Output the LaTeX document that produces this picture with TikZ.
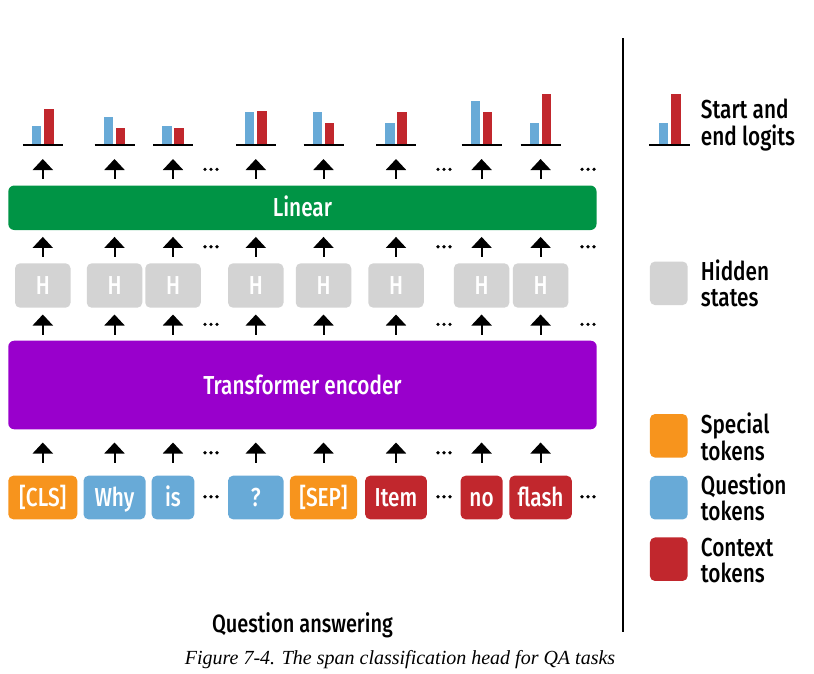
\documentclass[tikz,border=0pt]{standalone}
\usepackage{fontspec}
\setmainfont{Liberation Serif}
\setsansfont{Fira Sans Medium}[FakeStretch=0.8]
\usepackage{xcolor}
\usetikzlibrary{arrows.meta}
\definecolor{lineargreen}{HTML}{009445}
\definecolor{encpurple}{HTML}{9900CC}
\definecolor{hidgray}{HTML}{D3D3D3}
\definecolor{specorange}{HTML}{F7941D}
\definecolor{questblue}{HTML}{68AAD7}
\definecolor{ctxred}{HTML}{C1272D}
\begin{document}
\begin{tikzpicture}[x=1pt,y=-1pt,
        every node/.style={font=\sffamily\fontsize{26}{26.5}\selectfont, inner sep=0pt},
        bigbox/.style={rounded corners=6pt, text=white, text height=18pt, text depth=0pt},
        hbox/.style={fill=hidgray, rounded corners=5pt, minimum width=55.5pt, minimum height=44.4pt, text=white, text height=18pt, text depth=0pt},
        tokbox/.style={rounded corners=5pt, minimum height=43.6pt, text=white, text height=18pt, text depth=0pt},
        uparrow/.style={line width=2pt, -{Triangle[width=20pt,length=11pt]}},
        legbox/.style={rounded corners=5pt, minimum width=37.7pt, minimum height=43.5pt},
        legtext/.style={anchor=base west, align=left}]
        \useasboundingbox (0,0) rectangle (814,673);
        \node[bigbox, fill=lineargreen, minimum width=588.2pt, minimum height=44.5pt] (linear) at (302.4,207.75) {Linear};
        \node[bigbox, fill=encpurple, minimum width=588.4pt, minimum height=88.6pt] (encoder) at (302.5,385) {Transformer encoder};
        % columns: name/x/token width/colour/token/start/end
        \foreach \n/\x/\tw/\tc/\tl/\b/\r in {1/42.8/69/specorange/{[CLS]}/19/36,
                2/114.5/62/questblue/Why/28/17,
                3/173/42.6/questblue/is/19/17,
                4/255.8/55.5/questblue/?/33/34,
                5/323.5/67.3/specorange/{[SEP]}/33/22,
                6/396/61.7/ctxred/Item/22/33,
                7/481.6/42/ctxred/no/44/33,
                8/540.6/62.4/ctxred/flash/22/51}{
            \node[tokbox, fill=\tc, minimum width=\tw pt] (tok\n) at (\x,497.5) {\tl};
            \node[hbox] (hid\n) at (\x,285.5) {H};
            \coordinate (bar\n) at (\x,145);
            \fill[questblue] (\x-11,145) rectangle (\x-1.5,145-\b);
            \fill[ctxred] (\x+1.3,145) rectangle (\x+10.8,145-\r);
            \draw[line width=2pt] (\x-20,145) -- (\x+20,145);
            \draw[uparrow] ([yshift=6.5pt]hid\n.north |- linear.north) -- ([yshift=-14pt]bar\n);
            \draw[uparrow] ([yshift=6.3pt]hid\n.north) -- ([yshift=-6.7pt]hid\n.north |- linear.south);
            \draw[uparrow] ([yshift=5.7pt]hid\n.south |- encoder.north) -- ([yshift=-6.6pt]hid\n.south);
            \draw[uparrow] ([yshift=13pt]tok\n.north) -- ([yshift=-13pt]tok\n.north |- encoder.south);
        }
        % dots
        \foreach \x in {211,444,588}
            \foreach \y in {169.3,246.7,324.3,496.7}
                \foreach \dx in {-6,0,6}
                    \fill (\x+\dx,\y) circle (1.8pt);
        \foreach \x in {211,444}
            \foreach \dx in {-6,0,6}
                \fill (\x+\dx,452.7) circle (1.8pt);
        % legend
        \draw[line width=1.8pt] (623,38) -- (623,632);
        \fill[questblue] (659.3,145) rectangle (668.3,123.3);
        \fill[ctxred] (671,145) rectangle (681,94);
        \draw[line width=2pt] (649.3,145) -- (690,145);
        \node[legtext] (leglogits) at (700.7,145) {Start and\\end logits};
        \node[legbox, fill=hidgray] (leghid) at (668.8,283.3) {};
        \node[legtext] (leghidtext) at (700.7,306.7) {Hidden\\states};
        \node[legbox, fill=specorange] (legspec) at (668.8,435.8) {};
        \node[legtext] (legspectext) at (700.7,460) {Special\\tokens};
        \node[legbox, fill=questblue] (legquest) at (668.8,497.7) {};
        \node[legtext] (legquesttext) at (700.7,520.7) {Question\\tokens};
        \node[legbox, fill=ctxred] (legctx) at (668.8,559.2) {};
        \node[legtext] (legctxtext) at (700.7,582.7) {Context\\tokens};
        \node[font=\sffamily\fontsize{25}{25}\selectfont, anchor=base] (qa) at (302.5,632.5) {Question answering};
        \node[font=\rmfamily\itshape\fontsize{20}{20}\selectfont, anchor=base] (caption) at (400,664) {Figure 7-4. The span classification head for QA tasks};
\end{tikzpicture}
\end{document}
